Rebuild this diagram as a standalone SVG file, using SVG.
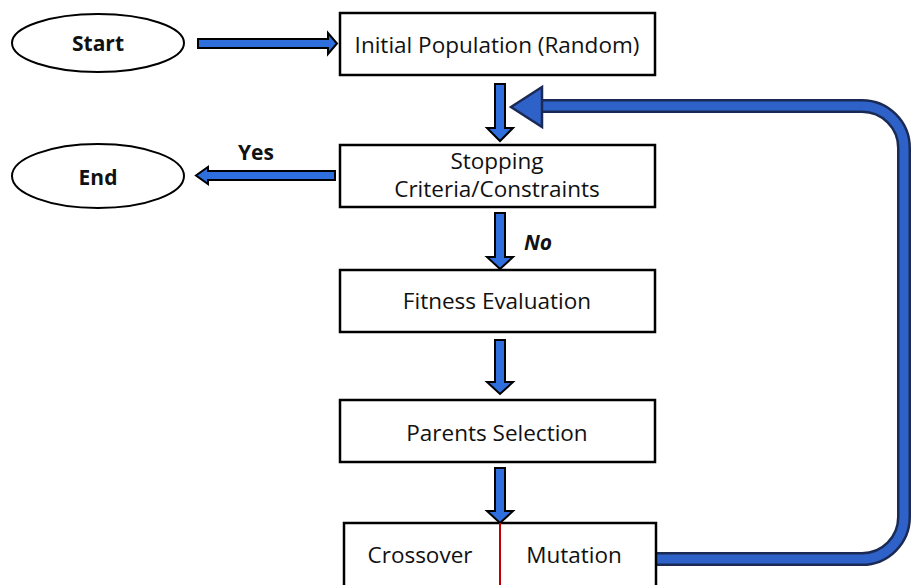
<svg xmlns="http://www.w3.org/2000/svg" width="912" height="585" viewBox="0 0 912 585">
<style>
.box{fill:#fff;stroke:#000;stroke-width:2.5}
.ell{fill:#fff;stroke:#000;stroke-width:2}
.t{font-family:"Open Sans","Noto Sans","Liberation Sans",sans-serif;font-size:22.5px;fill:#111;text-anchor:middle}
.b{font-weight:bold;font-size:21px}
.arr{fill:#2F6FDD;stroke:#000;stroke-width:2;stroke-linejoin:miter}
.fbo{fill:none;stroke:#1a2a55;stroke-width:14}
.fbi{fill:none;stroke:#2F62C8;stroke-width:9}
.fbh{fill:#2F62C8;stroke:#1a2a55;stroke-width:2.5}
</style>
<rect width="912" height="585" fill="#fff"/>
<g id="connectors">
  <polygon class="arr" points="198,39 328,39 328,33 337,43.5 328,54 328,48 198,48"/>
  <polygon class="arr" points="335,171 208,171 208,167 196,175.5 208,184 208,180 335,180"/>
  <polygon class="arr" points="495,84 505,84 505,128 513,128 500,141 487,128 495,128"/>
  <polygon class="arr" points="495,213 505,213 505,257 513,257 500,269 487,257 495,257"/>
  <polygon class="arr" points="495,340 505,340 505,382 513,382 500,394 487,382 495,382"/>
  <polygon class="arr" points="495,468 505,468 505,511 513,511 500,523 487,511 495,511"/>
  <path class="fbo" d="M657,559 H862 A42,42 0 0 0 904,517 V148 A42,42 0 0 0 862,106 H540"/>
  <path class="fbi" d="M656,559 H862 A42,42 0 0 0 904,517 V148 A42,42 0 0 0 862,106 H540"/>
  <polygon class="fbh" points="511,107 542,87 542,127"/>
  <text class="t b" x="256" y="160">Yes</text>
  <text class="t b" x="538" y="250" font-style="italic">No</text>
</g>
<g id="start">
  <ellipse class="ell" cx="98" cy="43" rx="86" ry="29"/>
  <text class="t b" x="98" y="51">Start</text>
</g>
<g id="end">
  <ellipse class="ell" cx="98" cy="176" rx="86" ry="32"/>
  <text class="t b" x="98" y="185">End</text>
</g>
<g id="initial">
  <rect class="box" x="340" y="13" width="315" height="62"/>
  <text class="t" x="497" y="53">Initial Population (Random)</text>
</g>
<g id="stopping">
  <rect class="box" x="340" y="145" width="315" height="62"/>
  <text class="t" x="497" y="169">Stopping</text>
  <text class="t" x="497" y="197">Criteria/Constraints</text>
</g>
<g id="fitness">
  <rect class="box" x="340" y="270" width="315" height="62"/>
  <text class="t" x="497" y="309">Fitness Evaluation</text>
</g>
<g id="parents">
  <rect class="box" x="340" y="400" width="315" height="62"/>
  <text class="t" x="497" y="441">Parents Selection</text>
</g>
<g id="crossover-mutation">
  <rect class="box" x="344" y="523" width="312" height="70"/>
  <line x1="500" y1="523" x2="500" y2="585" stroke="#c00000" stroke-width="2"/>
  <text class="t" x="420" y="563">Crossover</text>
  <text class="t" x="574" y="563">Mutation</text>
</g>
</svg>
